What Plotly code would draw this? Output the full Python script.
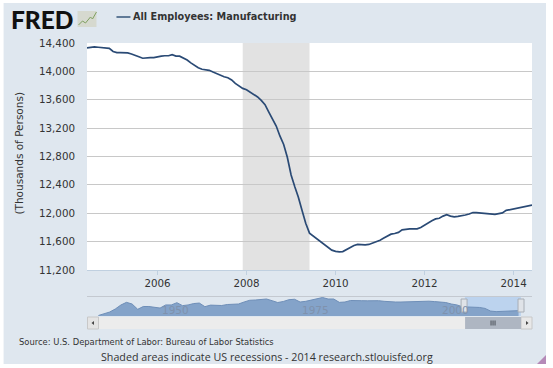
import plotly.graph_objects as go

# --- data -------------------------------------------------------------
start_year, start_month = 2004, 6
employment = [
    14330, 14340, 14345, 14340, 14335, 14335, 14325,
    14280, 14265, 14265, 14265, 14260, 14245, 14230, 14205, 14185, 14195, 14195, 14195,
    14200, 14215, 14220, 14220, 14235, 14215, 14215, 14190, 14160, 14120, 14080, 14050,
    14030, 14020, 14015, 13990, 13965, 13940, 13925, 13910, 13880, 13830, 13790, 13760,
    13740, 13710, 13680, 13640, 13590, 13530, 13430, 13330, 13230, 13090, 12970, 12790,
    12540, 12370, 12230, 12040, 11860, 11720, 11680, 11630, 11590, 11550, 11515, 11480,
    11462, 11455, 11460, 11490, 11525, 11545, 11560, 11555, 11555, 11560, 11580, 11590,
    11620, 11650, 11680, 11705, 11715, 11730, 11765, 11775, 11780, 11780, 11780, 11800,
    11835, 11860, 11895, 11920, 11930, 11960, 11980, 11960, 11950, 11955, 11960, 11975,
    11990, 12010, 12010, 12005, 12000, 11990, 11985, 11985, 11995, 12005, 12040, 12050,
    12060, 12075, 12080, 12090, 12105, 12115,
]
dates = [f"{start_year + (start_month - 1 + i) // 12}-{(start_month - 1 + i) % 12 + 1:02d}-01"
         for i in range(len(employment))]
recession = ["2007-12-01", "2009-06-01"]
y_ticks = [11200, 11600, 12000, 12400, 12800, 13200, 13600, 14000, 14400]

nav_years = list(range(1939, 2015))
nav_values = [
    9300, 10160, 11300, 13050, 15370, 16900, 15950, 12880, 14500, 14500, 14200,
    13600, 15400, 15400, 16700, 15000, 15400, 16200, 16500, 14400, 15300,
    15400, 15080, 15660, 15660, 15950, 17100, 18100, 18260, 18440, 18840,
    17860, 16800, 17400, 18440, 18700, 17100, 17500, 18260, 18960, 19700,
    18840, 18840, 16900, 17100, 17970, 18100, 17860, 17800, 17860, 17860,
    17500, 17100, 17100, 17100, 17280, 17400, 17400, 17500, 17570, 17340,
    17280, 16800, 15950, 15400, 14330, 14230, 14200, 13950, 13400, 11850,
    11530, 11730, 11930, 12000, 12100, 12100,
][:len(nav_years)]
nav_labels = [1950, 1975, 2000]
nav_window = [2004.42, 2014.42]

title_text = "All Employees: Manufacturing"
y_title = "(Thousands of Persons)"
source_text = "Source: U.S. Department of Labor: Bureau of Labor Statistics"
footer_text = "Shaded areas indicate US recessions - 2014 research.stlouisfed.org"

# --- layout helpers ---------------------------------------------------
W, H = 553, 368
L, R, T, B = 86.5, 532.0, 43.0, 316.0
PW, PH = R - L, B - T
def px(x): return (x - L) / PW
def py(y): return (B - y) / PH
def rect(x0, y0, x1, y1, fill, line=None, layer="below"):
    return dict(type="rect", xref="paper", yref="paper", x0=px(x0), x1=px(x1),
                y0=py(y1), y1=py(y0), fillcolor=fill, layer=layer,
                line=dict(color=line or fill, width=1 if line else 0))
def seg(x0, y0, x1, y1, color, width=1, layer="above"):
    return dict(type="line", xref="paper", yref="paper", x0=px(x0), x1=px(x1),
                y0=py(y0), y1=py(y1), layer=layer, line=dict(color=color, width=width))
def poly(points, fill, layer="above"):
    d = "M" + " L".join(f"{px(x):.5f},{py(y):.5f}" for x, y in points) + " Z"
    return dict(type="path", xref="paper", yref="paper", path=d, fillcolor=fill,
                layer=layer, line=dict(width=0))

PANEL = "#dfe7ef"
FONT = "DejaVu Sans"

fig = go.Figure()
fig.add_trace(go.Scatter(x=dates, y=employment, mode="lines", xaxis="x", yaxis="y",
                         name=title_text, line=dict(color="#2a4a75", width=1.7)))
fig.add_trace(go.Scatter(x=nav_years, y=nav_values, mode="lines", xaxis="x2", yaxis="y2",
                         fill="tozeroy", fillcolor="#84a3c9", showlegend=False,
                         line=dict(color="#6f8fb8", width=1)))

shapes = [
    rect(3, 3, 546, 364, PANEL),
    rect(L, 43, R, 270, "#ffffff"),
    dict(type="rect", xref="x", yref="y domain", x0=recession[0], x1=recession[1], y0=0, y1=1,
         fillcolor="#e2e2e2", line=dict(width=0), layer="below"),
    dict(type="rect", xref="x2", yref="y2 domain", x0=nav_window[0], x1=nav_window[1], y0=0, y1=1,
         fillcolor="#bcd3ee", line=dict(width=0), layer="below"),
    seg(L, 296.5, R, 296.5, "#c4c9d0", 1),
    rect(98, 317, 521, 329, "#ececec"),
    rect(87, 317, 98, 329, "#e4e4e4", "#c8c8c8"),
    rect(521, 317, 532, 329, "#e8e8e8", "#c8c8c8"),
    rect(465, 317, 521, 329, "#aeb6c2", layer="above"),
    rect(461, 299, 467, 312, "#dfe3e8", "#a8aeb6", layer="above"),
    rect(518, 299, 524, 312, "#dfe3e8", "#a8aeb6", layer="above"),
    poly([(93.5, 321), (93.5, 325), (91, 323)], "#444444"),
    poly([(526, 321), (526, 325), (528.5, 323)], "#444444"),
    seg(491, 320.5, 491, 325.5, "#4a4f58"),
    seg(493, 320.5, 493, 325.5, "#4a4f58"),
    seg(495, 320.5, 495, 325.5, "#4a4f58"),
    seg(116, 17, 130, 17, "#3f5f80", 1.6),
    rect(77, 11, 96, 27, "#d6d9cf"),
    dict(type="path", xref="paper", yref="paper", layer="above",
         line=dict(color="#7fa060", width=1),
         path="M" + " L".join(f"{px(x):.5f},{py(y):.5f}" for x, y in
                              [(78, 25), (82, 21), (85, 23), (90, 17), (92, 19), (96, 12)])),
    poly([(546, 355), (546, 364), (537, 364)], "#b58ab8"),
]

annotations = [
    dict(text="FRED", xref="paper", yref="paper", x=px(8.5), y=py(19.5), xanchor="left",
         yanchor="middle", showarrow=False,
         font=dict(family="Lato", size=24.5, weight=900, color="#111111")),
    dict(text=f"<b>{title_text}</b>", xref="paper", yref="paper", x=px(131), y=py(17), xanchor="left",
         yanchor="middle", showarrow=False, font=dict(family=FONT, size=9.7, color="#333333")),
    dict(text=source_text, xref="paper", yref="paper", x=px(16.5), y=py(342), xanchor="left",
         yanchor="middle", showarrow=False, font=dict(family=FONT, size=8.4, color="#333333")),
    dict(text=footer_text, xref="paper", yref="paper", x=px(267), y=py(356.5), xanchor="center",
         yanchor="middle", showarrow=False, font=dict(family="Open Sans", size=10.7, color="#333333")),
    dict(text=y_title, xref="paper", yref="paper", x=px(18), y=py(153), xanchor="center",
         yanchor="middle", textangle=-90, showarrow=False, font=dict(family=FONT, size=10.5, color="#333333")),
]
for yr in nav_labels:
    annotations.append(dict(text=str(yr), xref="x2", yref="paper", x=yr, y=py(309.5), xshift=15,
                            xanchor="center", yanchor="middle", showarrow=False,
                            font=dict(family=FONT, size=10.5, color="#7f92ad")))

fig.update_layout(
    width=W, height=H, autosize=False, showlegend=False,
    margin=dict(l=L, r=W - R, t=T, b=H - B, pad=0),
    paper_bgcolor="#ffffff", plot_bgcolor="rgba(0,0,0,0)",
    font=dict(family=FONT, color="#333333"),
    shapes=shapes, annotations=annotations,
    xaxis=dict(domain=[0, 1], anchor="y", type="date",
               range=[dates[0], dates[-1]], tick0="2006-01-01", dtick="M24", tickformat="%Y",
               ticks="outside", ticklen=4, tickcolor="#c0d0e0", showgrid=False,
               showline=True, linecolor="#c0d0e0", linewidth=1, zeroline=False,
               tickfont=dict(size=10.3, family=FONT, color="#333333")),
    yaxis=dict(domain=[(B - 270) / PH, 1], anchor="x", range=[11200, 14400],
               tickvals=y_ticks, tickformat=",d", ticks="", ticklabelstandoff=11,
               showgrid=True, gridcolor="#c8c8c8", gridwidth=1, zeroline=False,
               tickfont=dict(size=10.3, family=FONT, color="#333333")),
    xaxis2=dict(domain=[0, 1], anchor="y2", range=[1936.95, 2016.4], visible=False),
    yaxis2=dict(domain=[0, 19 / PH], anchor="x2", range=[9000, 20000], visible=False),
)

fig.write_html("out.html", config=dict(displayModeBar=False),
               post_script="document.body.style.margin='0';document.body.style.overflow='hidden';")
